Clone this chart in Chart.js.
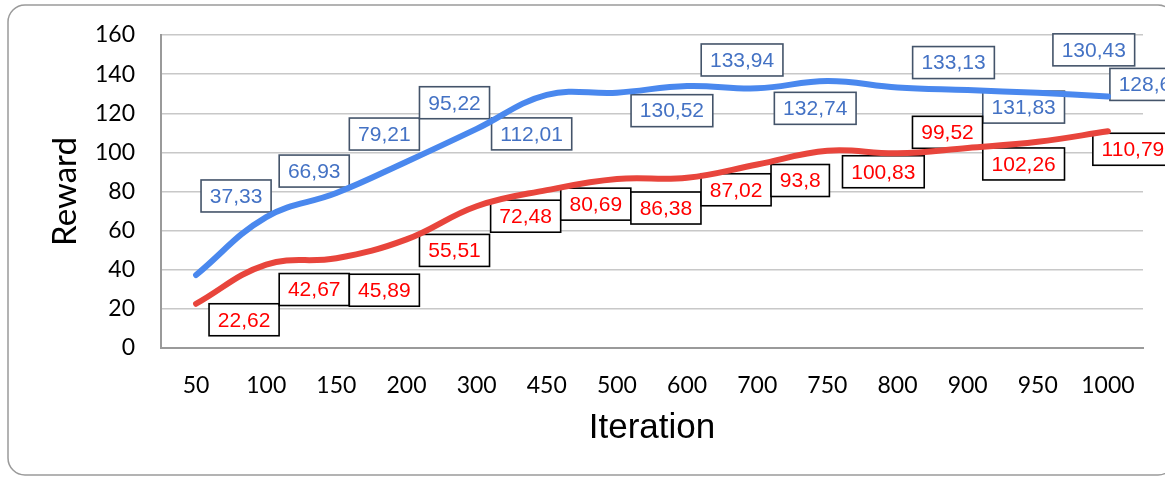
<!DOCTYPE html>
<html>
<head>
<meta charset="utf-8">
<script src="https://cdn.jsdelivr.net/npm/chart.js@4/dist/chart.umd.min.js"></script>
<style>
  html, body { margin: 0; padding: 0; background: #fff; }
  #wrap { width: 1165px; height: 477px; position: relative; }
</style>
</head>
<body>
<div id="wrap"><canvas id="c" width="1165" height="477"></canvas></div>
<script>
// ---- data ----
const categories = ['50','100','150','200','300','450','500','600','700','750','800','900','950','1000'];
const blueValues = [37.33, 66.93, 79.21, 95.22, 112.01, 129.4, 130.52, 133.94, 132.74, 136.5, 133.13, 131.83, 130.43, 128.6];
const redValues  = [22.62, 42.67, 45.89, 55.51, 72.48, 80.69, 86.38, 87.02, 93.8, 100.83, 99.52, 102.26, 105.4, 110.79];
const yTicks = [0, 20, 40, 60, 80, 100, 120, 140, 160];

// label placement (pixel offsets from the point; null = no label)
const blueLabelOffsets = [[40,-79],[48,-46],[48,-59],[48,-59],[55,5],null,[55,18],[55,-26],[58,20],null,[56,-25],[56,17],[56,-43],[37,-12]];
const redLabelOffsets  = [[48,16],[48,25],[48,32],[48,11],[49,10],[49,14],[49,29],[49,12],[43,16],[56,21],[50,-21],[56,16],null,[25,18]];

const frameBorder = {
  id: 'frameBorder',
  beforeDraw(chart) {
    const ctx = chart.ctx;
    ctx.save();
    ctx.fillStyle = '#fff';
    ctx.fillRect(0, 0, chart.width, chart.height);
    ctx.strokeStyle = '#9a9a9a';
    ctx.lineWidth = 1.5;
    const x = 8, y = 5, w = 1175 - 8, h = 475 - 5, r = 17;
    ctx.beginPath();
    ctx.moveTo(x + r, y);
    ctx.lineTo(x + w - r, y);
    ctx.arcTo(x + w, y, x + w, y + r, r);
    ctx.lineTo(x + w, y + h - r);
    ctx.arcTo(x + w, y + h, x + w - r, y + h, r);
    ctx.lineTo(x + r, y + h);
    ctx.arcTo(x, y + h, x, y + h - r, r);
    ctx.lineTo(x, y + r);
    ctx.arcTo(x, y, x + r, y, r);
    ctx.closePath();
    ctx.stroke();
    ctx.restore();
  }
};

const boxLabels = {
  id: 'boxLabels',
  beforeDatasetsDraw(chart) {
    const ctx = chart.ctx;
    ctx.save();
    ctx.font = '21px "Liberation Sans", Arial, sans-serif';
    ctx.textAlign = 'center';
    ctx.textBaseline = 'middle';
    chart.data.datasets.forEach((ds, di) => {
      const meta = chart.getDatasetMeta(di);
      const offs = ds.labelOffsets;
      meta.data.forEach((pt, i) => {
        const off = offs[i];
        if (!off) return;
        const txt = String(ds.data[i]).replace('.', ',');
        const tw = ctx.measureText(txt).width;
        const w = tw + 17.5, h = 32;
        const cx = pt.x + off[0], cy = pt.y + off[1];
        ctx.fillStyle = '#fff';
        ctx.fillRect(cx - w / 2, cy - h / 2, w, h);
        ctx.lineWidth = 1.6;
        ctx.strokeStyle = ds.labelBorder;
        ctx.strokeRect(cx - w / 2, cy - h / 2, w, h);
        ctx.fillStyle = ds.labelColor;
        ctx.fillText(txt, cx, cy + 1);
      });
    });
    ctx.restore();
  }
};

new Chart(document.getElementById('c'), {
  type: 'line',
  data: {
    labels: categories,
    datasets: [
      {
        data: blueValues,
        borderColor: '#4a88ee',
        borderWidth: 6,
        borderCapStyle: 'round',
        borderJoinStyle: 'round',
        pointRadius: 0,
        tension: 0.4,
        labelOffsets: blueLabelOffsets,
        labelColor: '#4472c4',
        labelBorder: '#44546a'
      },
      {
        data: redValues,
        borderColor: '#e8453c',
        borderWidth: 6,
        borderCapStyle: 'round',
        borderJoinStyle: 'round',
        pointRadius: 0,
        tension: 0.4,
        labelOffsets: redLabelOffsets,
        labelColor: '#ff0000',
        labelBorder: '#000000'
      }
    ]
  },
  options: {
    responsive: false,
    animation: false,
    devicePixelRatio: 1,
    layout: { padding: { top: 35, right: 22, left: 0, bottom: 0 } },
    plugins: { legend: { display: false }, tooltip: { enabled: false } },
    scales: {
      x: {
        offset: true,
        afterFit(scale) { scale.height = 129; },
        grid: { display: true, drawOnChartArea: false, drawTicks: false },
        border: { display: true, color: '#9a9a9a', width: 2 },
        ticks: {
          color: '#000',
          font: { family: 'Lato, "Open Sans", sans-serif', size: 23 },
          padding: 24,
          maxRotation: 0,
          autoSkip: false
        },
        title: {
          display: true,
          text: 'Iteration',
          color: '#000',
          font: { family: '"Liberation Sans", Arial, sans-serif', size: 35 },
          padding: { top: 0, bottom: 27.5 }
        }
      },
      y: {
        min: 0,
        max: 160,
        afterFit(scale) { scale.width = 161; scale.paddingTop = 0; scale.paddingBottom = 0; },
        afterBuildTicks(scale) { scale.ticks = yTicks.map(v => ({ value: v })); },
        grid: { color: '#c8c8c8', lineWidth: 1.5, drawTicks: false },
        border: { display: true, color: '#9a9a9a', width: 2 },
        ticks: {
          color: '#000',
          font: { family: 'Lato, "Open Sans", sans-serif', size: 23 },
          padding: 26
        },
        title: {
          display: true,
          text: 'Reward',
          color: '#000',
          font: { family: 'Lato, "Open Sans", sans-serif', size: 33 },
          padding: { top: 46, bottom: 0 }
        }
      }
    }
  },
  plugins: [frameBorder, boxLabels]
});
</script>
</body>
</html>
